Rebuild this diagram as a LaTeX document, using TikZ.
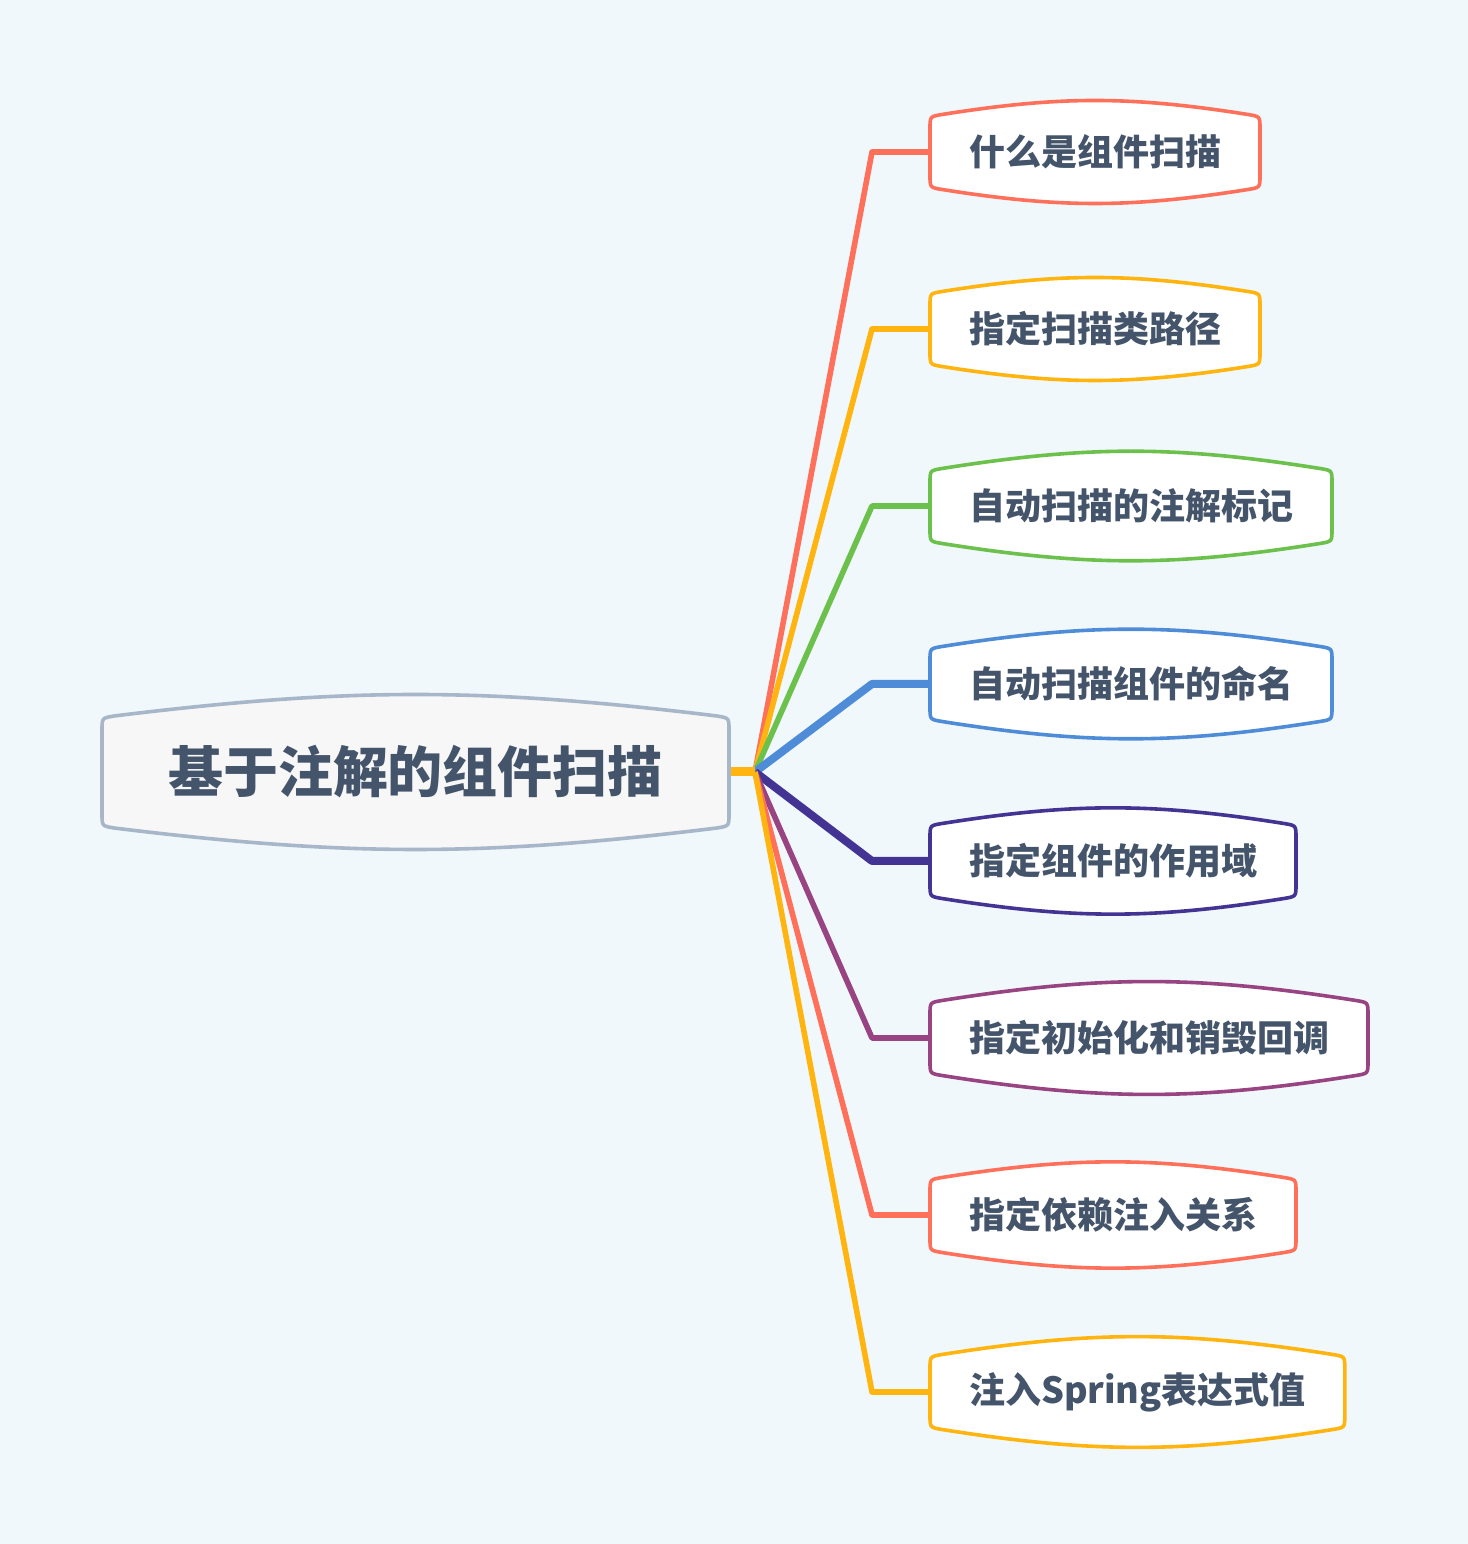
\documentclass[tikz,border=0pt]{standalone}
\usepackage{fontspec}
\newfontfamily\cjk{Noto Sans CJK SC}
\usetikzlibrary{calc}
\pgfdeclarelayer{background layer}
\pgfsetlayers{background layer,main}
\definecolor{bg}{HTML}{F0F8FB}
\definecolor{ink}{HTML}{44546A}
\definecolor{rootline}{HTML}{A7B6C8}
\definecolor{rootfill}{HTML}{F7F7F7}
\definecolor{cred}{HTML}{FF705A}
\definecolor{corange}{HTML}{FFB40F}
\definecolor{cgreen}{HTML}{6CC04C}
\definecolor{cblue}{HTML}{4F8CD8}
\definecolor{cindigo}{HTML}{433494}
\definecolor{cplum}{HTML}{984482}
% bubble outline round a node: #1 node, #2 bend, #3 line colour, #4 fill
\newcommand\bubble[4]{%
  \draw[line width=1.8pt,draw=#3,fill=#4]
    ($(#1.south west)+(0,12)$) -- ($(#1.north west)+(0,-12)$)
    .. controls (#1.north west) .. ($(#1.north west)+(12,2)$)
    to[bend left=#2] ($(#1.north east)+(-12,2)$)
    .. controls (#1.north east) .. ($(#1.north east)+(0,-12)$)
    -- ($(#1.south east)+(0,12)$)
    .. controls (#1.south east) .. ($(#1.south east)+(-12,-2)$)
    to[bend left=#2] ($(#1.south west)+(12,-2)$)
    .. controls (#1.south west) .. cycle;}
\begin{document}
\begin{tikzpicture}[x=0.5pt,y=0.5pt]
\tikzstyle{topic}=[font=\cjk\bfseries\fontsize{18pt}{20pt}\selectfont,text=ink,anchor=west,
  inner xsep=19.5pt,inner ysep=0pt,minimum height=35.5pt,outer sep=0pt]
\tikzstyle{central}=[topic,font=\cjk\bfseries\fontsize{27.5pt}{30pt}\selectfont,
  inner xsep=33pt,minimum height=54pt]
\tikzstyle{branch}=[line width=2.8pt,line join=round]
\tikzstyle{thick branch}=[line width=4pt,line join=round]
\node [central] at (102,772) (root) {基于注解的组件扫描};
\coordinate (hub) at (755,772);
\node [topic] at (930,1392) (scan) {什么是组件扫描};
\node [topic] at (930,1215) (path) {指定扫描类路径};
\node [topic] at (930,1038) (mark) {自动扫描的注解标记};
\node [topic] at (930,860) (name) {自动扫描组件的命名};
\node [topic] at (930,683) (scope) {指定组件的作用域};
\node [topic] at (930,506) (life) {指定初始化和销毁回调};
\node [topic] at (930,329) (inject) {指定依赖注入关系};
\node [topic] at (930,152) (spel) {注入Spring表达式值};
\begin{pgfonlayer}{background layer}
\fill [bg] (0,0) rectangle (1468,1544);
\draw [branch,cred] (hub) -- ($(scan.west)+(-58,0)$) -- (scan.west);
\draw [branch,corange] (hub) -- ($(path.west)+(-58,0)$) -- (path.west);
\draw [branch,cgreen] (hub) -- ($(mark.west)+(-58,0)$) -- (mark.west);
\draw [thick branch,cblue] (hub) -- ($(name.west)+(-58,0)$) -- (name.west);
\draw [thick branch,cindigo] (hub) -- ($(scope.west)+(-58,0)$) -- (scope.west);
\draw [branch,cplum] (hub) -- ($(life.west)+(-58,0)$) -- (life.west);
\draw [branch,cred] (hub) -- ($(inject.west)+(-58,0)$) -- (inject.west);
\draw [branch,corange] (hub) -- ($(spel.west)+(-58,0)$) -- (spel.west);
\draw [line width=4.5pt,corange] (root.east) -- (hub);
\bubble{root}{7}{rootline}{rootfill}
\bubble{scan}{9}{cred}{white}
\bubble{path}{9}{corange}{white}
\bubble{mark}{9}{cgreen}{white}
\bubble{name}{9}{cblue}{white}
\bubble{scope}{9}{cindigo}{white}
\bubble{life}{9}{cplum}{white}
\bubble{inject}{9}{cred}{white}
\bubble{spel}{9}{corange}{white}
\end{pgfonlayer}
\end{tikzpicture}
\end{document}
